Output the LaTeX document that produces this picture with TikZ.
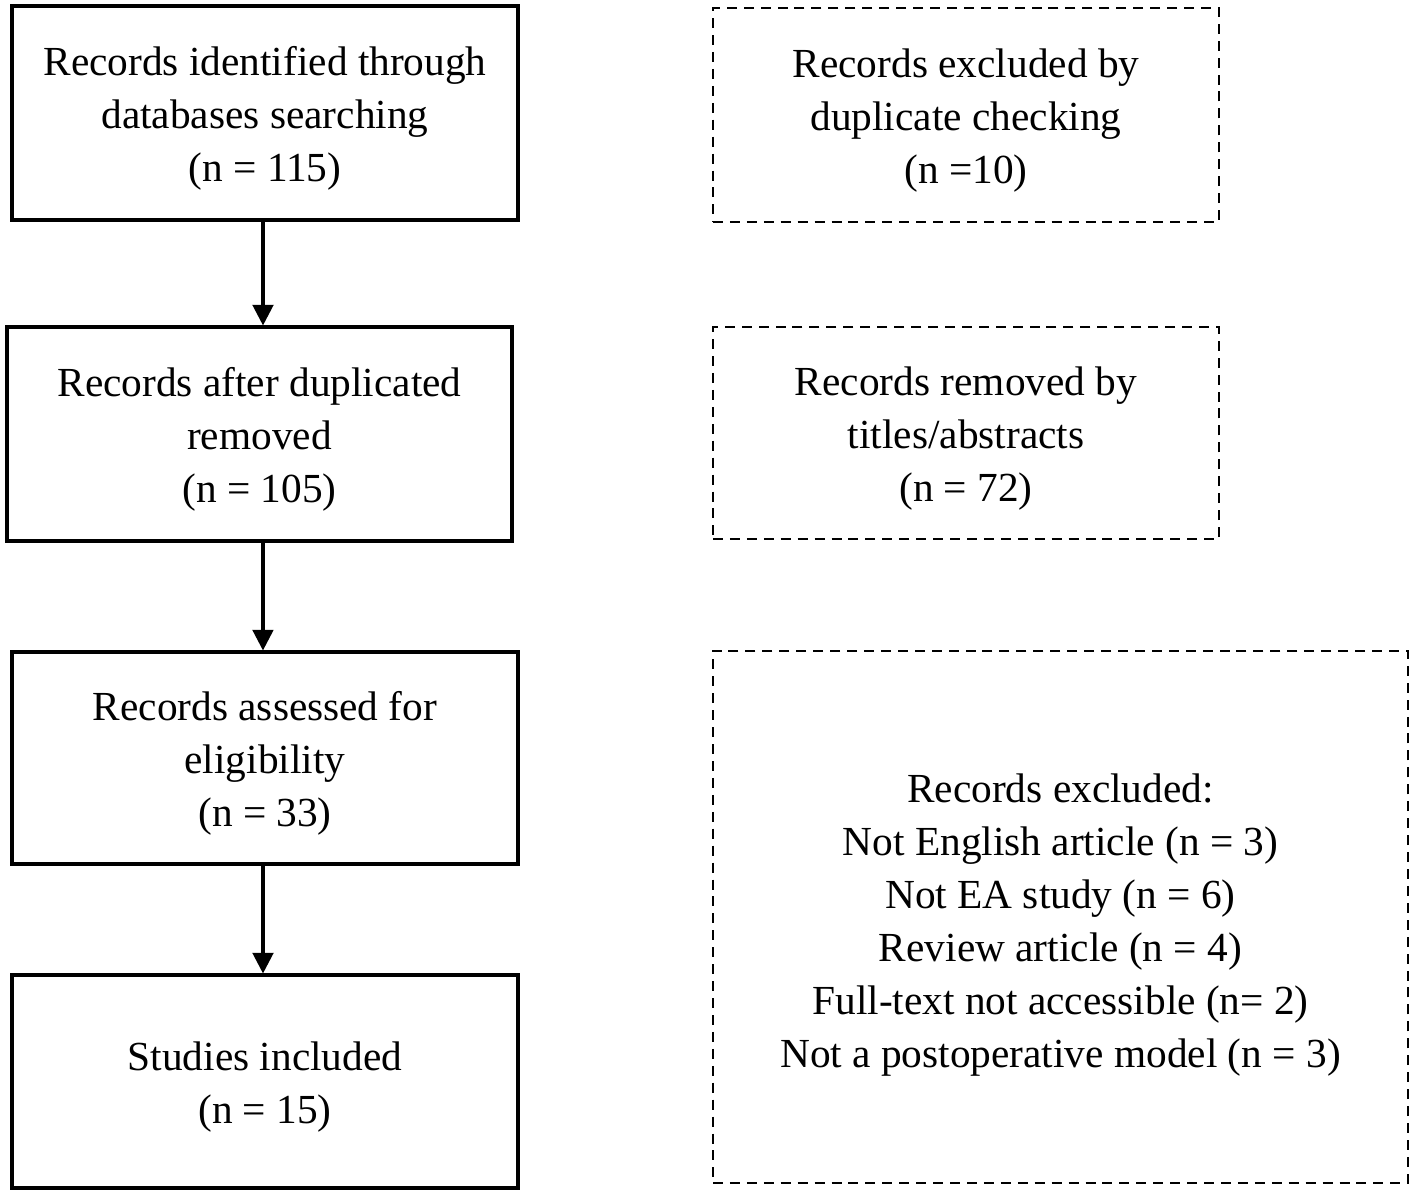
\documentclass[tikz,border=0pt]{standalone}
\usepackage{fontspec}
\setmainfont{Liberation Serif}
\usetikzlibrary{arrows.meta}
\newcommand\liftA{\rule{0pt}{30.5pt}}
\newcommand\liftB{\rule{0pt}{33.5pt}}
\begin{document}
\begin{tikzpicture}[x=0.75pt,y=-0.75pt,
  solidbox/.style={draw=black,line width=2.3pt,inner sep=0pt,align=center,
    font=\fontsize{31}{39.75}\selectfont},
  dashbox/.style={draw=black,line width=1.9pt,dash pattern=on 7.5pt off 5.2pt,inner sep=0pt,align=center,
    font=\fontsize{31}{39.75}\selectfont},
  arr/.style={line width=2.3pt,-{Triangle[length=15.5pt,width=15.5pt]}}]
\useasboundingbox (0,0) rectangle (1414,1194);
\node[solidbox,minimum width=506*0.75pt,minimum height=214*0.75pt] (b1) at (265,113)
  {\liftA Records identified through\\databases searching\\(n = 115)};
\node[solidbox,minimum width=505*0.75pt,minimum height=214*0.75pt] (b2) at (259.5,434)
  {\liftA Records after duplicated\\removed\\(n = 105)};
\node[solidbox,minimum width=506*0.75pt,minimum height=212*0.75pt] (b3) at (265,758)
  {\liftA Records assessed for\\eligibility\\(n = 33)};
\node[solidbox,minimum width=506*0.75pt,minimum height=213*0.75pt] (b4) at (265,1081.5)
  {\liftA Studies included\\(n = 15)};
\node[dashbox,minimum width=506*0.75pt,minimum height=214*0.75pt] (d1) at (966,115)
  {\liftA Records excluded by\\duplicate checking\\(n =10)};
\node[dashbox,minimum width=506*0.75pt,minimum height=212*0.75pt] (d2) at (966,433)
  {\liftA Records removed by\\titles/abstracts\\(n = 72)};
\node[dashbox,minimum width=695*0.75pt,minimum height=532*0.75pt] (d3) at (1060.5,917)
  {\liftB Records excluded:\\Not English article (n = 3)\\Not EA study (n = 6)\\Review article (n = 4)\\Full-text not accessible (n= 2)\\Not a postoperative model (n = 3)};
\draw[arr] ([xshift=-1.5pt]b1.south) -- ([xshift=-1.5pt]b1.south |- b2.north);
\draw[arr] ([xshift=2.6pt]b2.south) -- ([xshift=2.6pt]b2.south |- b3.north);
\draw[arr] ([xshift=-1.5pt]b3.south) -- ([xshift=-1.5pt]b3.south |- b4.north);
\end{tikzpicture}
\end{document}
